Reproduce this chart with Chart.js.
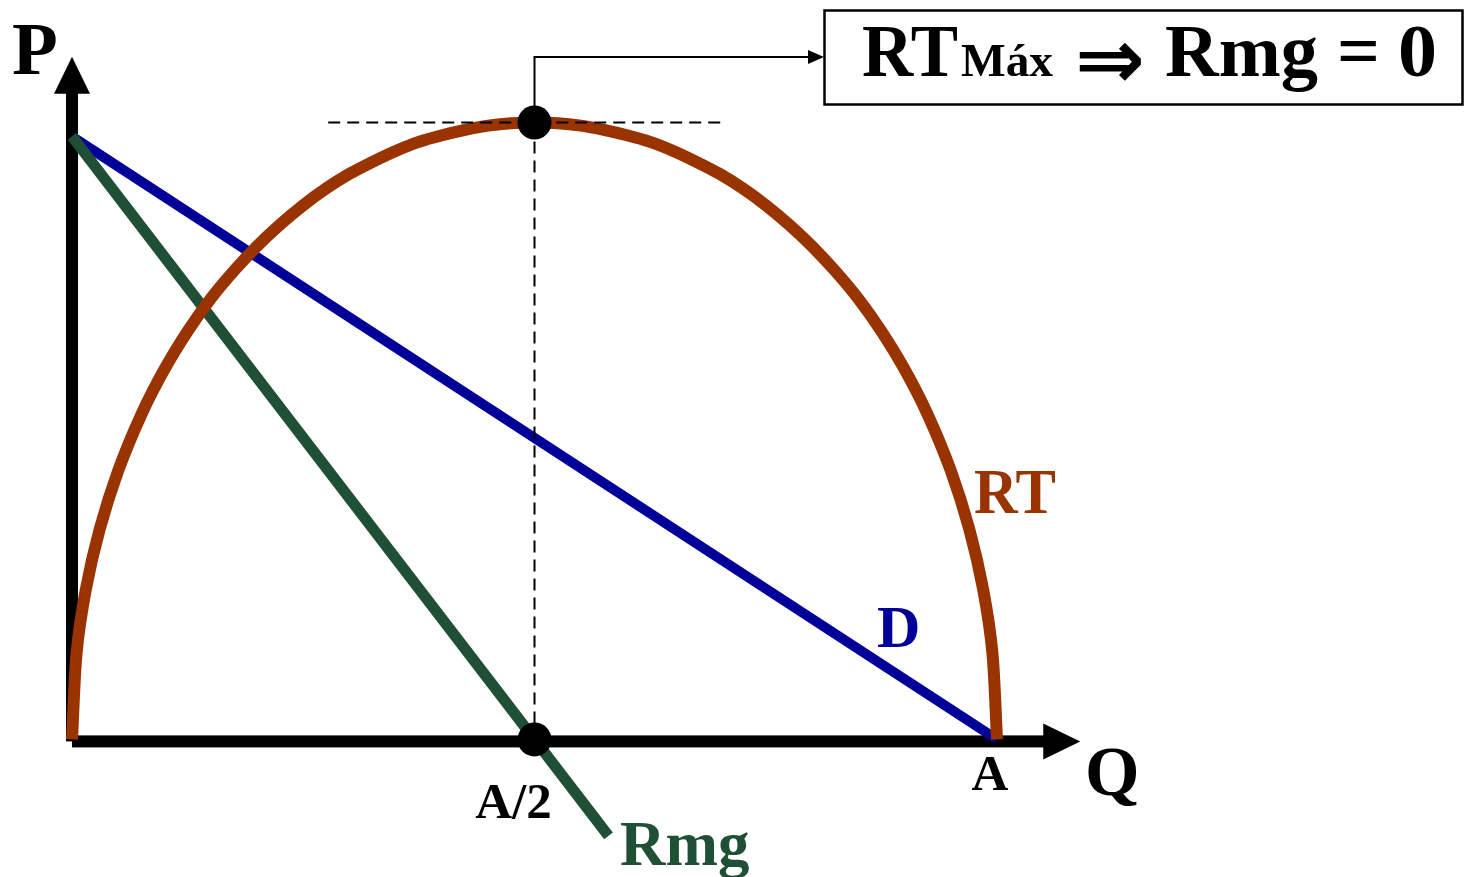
<!DOCTYPE html>
<html>
<head>
<meta charset="utf-8">
<title>RT, D y Rmg</title>
<script src="https://cdn.jsdelivr.net/npm/chart.js@4.4.1/dist/chart.umd.min.js"></script>
<style>
  html, body { margin: 0; padding: 0; background: #fff; }
  canvas { display: block; }
</style>
</head>
<body>
<canvas id="revChart" width="1464" height="877"></canvas>
<script>
// quantity (Q) and price (P) values of the three curves
const qTicks = [5, 10];
const qTickLabels = ["A/2", "A"];

const rtQ = [0, 0.05, 0.15, 0.3, 0.5, 0.75, 1, 1.25, 1.5, 1.75, 2, 2.25, 2.5, 2.75, 3, 3.25, 3.5, 3.75, 4, 4.25, 4.5, 4.75,
             5, 5.25, 5.5, 5.75, 6, 6.25, 6.5, 6.75, 7, 7.25, 7.5, 7.75, 8, 8.25, 8.5, 8.75, 9, 9.25, 9.5, 9.7, 9.85, 9.95, 10];
const rtP = [0, 1.44, 2.49, 3.49, 4.46, 5.39, 6.14, 6.77, 7.31, 7.77, 8.18, 8.54, 8.86, 9.14, 9.38, 9.58, 9.76, 9.91, 10.02, 10.11, 10.18, 10.22,
             10.23, 10.22, 10.18, 10.11, 10.02, 9.91, 9.76, 9.58, 9.38, 9.14, 8.86, 8.54, 8.18, 7.77, 7.31, 6.77, 6.14, 5.39, 4.46, 3.49, 2.49, 1.44, 0];

const demandQ = [0, 10];
const demandP = [10, 0];

const rmgQ = [0, 5.8];
const rmgP = [10, -1.6];

// RT max sits at Q = A/2, where Rmg crosses zero
const peakQ = 5;
const peakP = 10.23;
const guideQ = [2.77, 7.05];

const boxTextParts = ["RT", "Máx", "⇒", "Rmg", "=", "0"];

const BROWN = "#993300";
const BLUE = "#000099";
const GREEN = "#1f5035";
const SERIF = "'Liberation Serif', 'Times New Roman', serif";

function pts(xs, ys) {
  return xs.map((x, i) => ({ x: x, y: ys[i] }));
}

function drawText(ctx, txt, x, y, size, color, opts = {}) {
  ctx.save();
  ctx.font = (opts.weight || "bold") + " " + size + "px " + (opts.family || SERIF);
  ctx.fillStyle = color;
  ctx.textBaseline = "alphabetic";
  ctx.textAlign = "left";
  const w = ctx.measureText(txt).width;
  const sx = opts.width ? opts.width / w : 1;
  let left = x;
  if (opts.align === "center") left = x - (w * sx) / 2;
  ctx.translate(left, y);
  ctx.scale(sx, 1);
  ctx.fillText(txt, 0, 0);
  ctx.restore();
}

function arrowHead(ctx, tipX, tipY, dir, len, half) {
  ctx.beginPath();
  if (dir === "up") {
    ctx.moveTo(tipX, tipY);
    ctx.lineTo(tipX - half, tipY + len);
    ctx.lineTo(tipX + half, tipY + len);
  } else {
    ctx.moveTo(tipX, tipY);
    ctx.lineTo(tipX - len, tipY - half);
    ctx.lineTo(tipX - len, tipY + half);
  }
  ctx.closePath();
  ctx.fill();
}

// P and Q axes with arrows, under the curves
const axesPlugin = {
  id: "axesPlugin",
  beforeDatasetsDraw(chart) {
    const ctx = chart.ctx;
    const xs = chart.scales.x, ys = chart.scales.y;
    const x0 = xs.getPixelForValue(0);
    const y0 = ys.getPixelForValue(0);
    const yTip = ys.getPixelForValue(11.32);
    const xTip = xs.getPixelForValue(10.9);
    ctx.save();
    ctx.fillStyle = "#000";
    ctx.fillRect(x0 - 6, yTip + 30, 12, y0 - yTip - 30 + 2);
    ctx.fillRect(x0, y0 - 4, xTip - x0 - 30, 12);
    arrowHead(ctx, x0, yTip, "up", 37, 18);
    arrowHead(ctx, xTip, y0 + 2, "right", 37, 18);
    ctx.restore();
  }
};

// labels, connector and the RTmax box
const labelPlugin = {
  id: "labelPlugin",
  afterDraw(chart) {
    const ctx = chart.ctx;
    const xs = chart.scales.x, ys = chart.scales.y;

    drawText(ctx, "P", 12, 74, 75, "#000");
    drawText(ctx, "Q", 1085, 795, 70, "#000");

    const tickOffsets = [-21, -7];
    qTicks.forEach((q, i) => {
      const px = xs.getPixelForValue(q) + tickOffsets[i];
      drawText(ctx, qTickLabels[i], px, i === 0 ? 818 : 790, 51, "#000", { align: "center" });
    });

    drawText(ctx, "RT", 974, 513, 64, BROWN, { width: 82 });
    drawText(ctx, "D", 877, 647, 60, BLUE);
    drawText(ctx, "Rmg", 620, 865, 63, GREEN);

    // connector from the RT peak to the box
    const px = xs.getPixelForValue(peakQ);
    const py = ys.getPixelForValue(peakP);
    const cy = 57;
    ctx.save();
    ctx.strokeStyle = "#000";
    ctx.fillStyle = "#000";
    ctx.lineWidth = 2;
    ctx.beginPath();
    ctx.moveTo(px, py);
    ctx.lineTo(px, cy);
    ctx.lineTo(810, cy);
    ctx.stroke();
    arrowHead(ctx, 824, cy, "right", 16, 7);

    ctx.lineWidth = 2.5;
    ctx.strokeRect(824.5, 10.5, 638, 94);
    ctx.restore();

    const lefts = [862, 961, 1075, 1165, 1337, 1398];
    const widths = [96, 92, 70, 153, 43, 39];
    const sizes = [74, 46, 84, 74, 74, 74];
    boxTextParts.forEach((t, i) => {
      if (i === 2) {
        drawText(ctx, t, lefts[i], 88, sizes[i], "#000", { width: widths[i], family: "'DejaVu Sans', sans-serif" });
      } else {
        drawText(ctx, t, lefts[i], 76, sizes[i], "#000", { width: widths[i] });
      }
    });
  }
};

const ctx = document.getElementById("revChart").getContext("2d");
new Chart(ctx, {
  type: "scatter",
  data: {
    datasets: [
      {
        label: "puntos",
        data: [{ x: peakQ, y: peakP }, { x: peakQ, y: 0 }],
        showLine: false,
        pointRadius: 17,
        pointBackgroundColor: "#000",
        pointBorderWidth: 0,
        clip: false
      },
      {
        label: "guía horizontal",
        data: pts(guideQ, [peakP, peakP]),
        showLine: true,
        borderColor: "#000",
        borderWidth: 2,
        borderDash: [12, 7],
        pointRadius: 0,
        clip: false
      },
      {
        label: "guía vertical",
        data: pts([peakQ, peakQ], [peakP, 0]),
        showLine: true,
        borderColor: "#000",
        borderWidth: 2,
        borderDash: [12, 7],
        pointRadius: 0,
        clip: false
      },
      {
        label: "RT",
        data: pts(rtQ, rtP),
        showLine: true,
        borderColor: BROWN,
        borderWidth: 12,
        tension: 0.3,
        pointRadius: 0,
        clip: false
      },
      {
        label: "Rmg",
        data: pts(rmgQ, rmgP),
        showLine: true,
        borderColor: GREEN,
        borderWidth: 11,
        pointRadius: 0,
        clip: false
      },
      {
        label: "D",
        data: pts(demandQ, demandP),
        showLine: true,
        borderColor: BLUE,
        borderWidth: 10,
        pointRadius: 0,
        clip: false
      }
    ]
  },
  options: {
    responsive: false,
    animation: false,
    layout: { padding: { left: 72, right: 282, top: 46, bottom: 13 } },
    plugins: { legend: { display: false }, tooltip: { enabled: false } },
    scales: {
      x: { type: "linear", min: 0, max: 12, display: false },
      y: { type: "linear", min: -2, max: 11.5, display: false }
    }
  },
  plugins: [axesPlugin, labelPlugin]
});
</script>
</body>
</html>
